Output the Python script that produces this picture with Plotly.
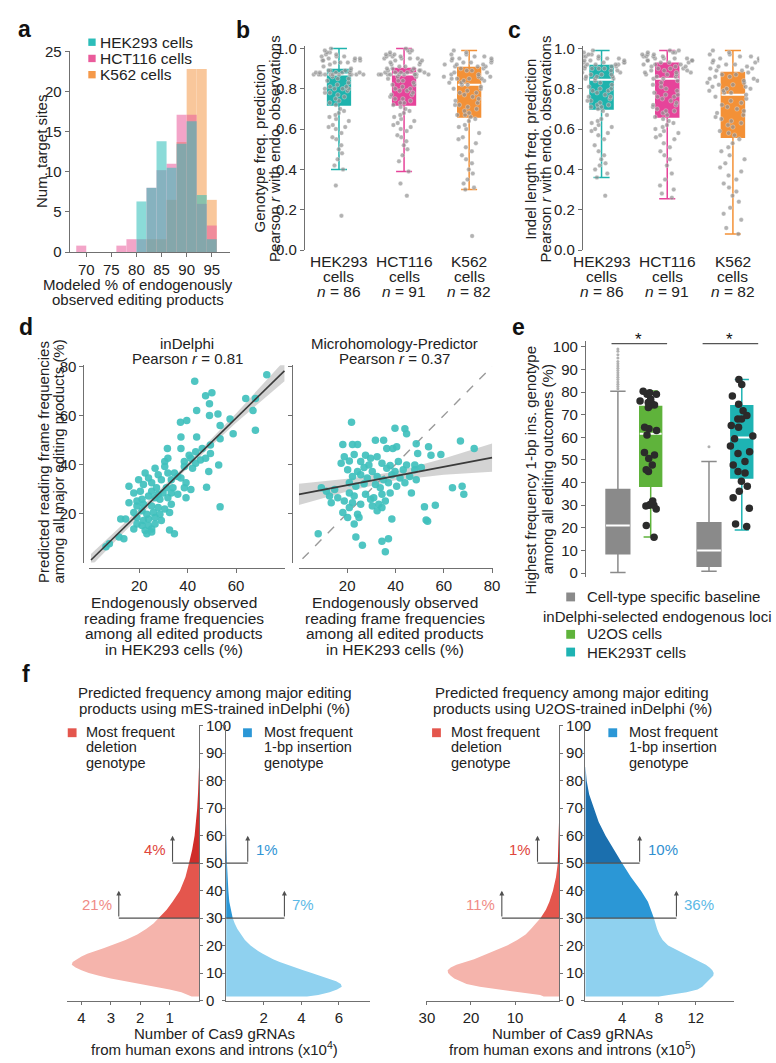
import plotly.graph_objects as go

W, H = 776, 1063
FONT = "Liberation Sans, Arial, Helvetica, sans-serif"
FS = 15
TXT = "#222222"
AXC = "#707070"


def X(p):
    return p / W


def Y(p):
    return 1 - p / H


# ---------------- panel a: histogram ----------------
a_bin_centers = [69, 71, 73, 75, 77, 79, 81, 83, 85, 87, 89, 91, 93, 95]
a_hek293 = [0, 0, 0, 0, 0, 0, 6.3, 8.0, 13.8, 10.5, 13.5, 16.3, 7.1, 1.6]
a_hct116 = [0.8, 0, 0, 0, 0.8, 1.6, 1.6, 8.0, 10.2, 11.0, 17.1, 17.1, 6.0, 3.3]
a_k562 = [0, 0, 0, 0, 0, 0, 0, 1.6, 1.6, 6.5, 13.7, 22.8, 22.8, 6.5]
a_names = ["HEK293 cells", "HCT116 cells", "K562 cells"]

# ---------------- panels b, c: box plots ----------------
cell_names = ["HEK293", "HCT116", "K562"]
cell_n = [86, 91, 82]

b_hek293 = [1.0, 0.99, 0.98, 0.98, 0.97, 0.97, 0.96, 0.96, 0.96, 0.95, 0.95, 0.95, 0.94, 0.94, 0.94, 0.94,
            0.93, 0.93, 0.93, 0.92, 0.91, 0.90,
            0.89, 0.89, 0.89, 0.89, 0.88, 0.88, 0.88, 0.88, 0.88, 0.88, 0.87, 0.87, 0.87, 0.87, 0.87, 0.87,
            0.87, 0.87, 0.87, 0.87, 0.87,
            0.86, 0.85, 0.85, 0.84, 0.83, 0.82, 0.81, 0.81, 0.80, 0.80, 0.80, 0.80, 0.79, 0.78, 0.78, 0.77,
            0.76, 0.75, 0.74, 0.73, 0.72,
            0.70, 0.69, 0.68, 0.67, 0.66, 0.65, 0.64, 0.62, 0.61, 0.61, 0.60, 0.58, 0.56, 0.55, 0.52, 0.50,
            0.48, 0.45, 0.42, 0.40, 0.32, 0.17]
b_hct116 = [1.0, 0.99, 0.99, 0.98, 0.98, 0.97, 0.97, 0.97, 0.96, 0.96, 0.96, 0.95, 0.95, 0.95, 0.95, 0.94,
            0.94, 0.93, 0.93, 0.92, 0.92, 0.91, 0.91,
            0.90, 0.90, 0.90, 0.89, 0.89, 0.89, 0.89, 0.88, 0.88, 0.88, 0.88, 0.88, 0.87, 0.87, 0.87, 0.87,
            0.87, 0.87, 0.87, 0.87, 0.87, 0.87,
            0.86, 0.86, 0.85, 0.84, 0.84, 0.83, 0.82, 0.82, 0.81, 0.80, 0.80, 0.79, 0.79, 0.78, 0.77, 0.77,
            0.76, 0.75, 0.75, 0.74, 0.73, 0.73, 0.72,
            0.71, 0.70, 0.69, 0.68, 0.67, 0.66, 0.65, 0.64, 0.63, 0.62, 0.61, 0.60, 0.59, 0.57, 0.56, 0.54,
            0.52, 0.50, 0.47, 0.44, 0.39, 0.33, 0.27]
b_k562 = [0.99, 0.98, 0.97, 0.97, 0.96, 0.96, 0.95, 0.95, 0.95, 0.94, 0.94, 0.93, 0.93, 0.93, 0.92, 0.92,
          0.92, 0.91, 0.91, 0.91,
          0.90, 0.90, 0.89, 0.89, 0.88, 0.88, 0.87, 0.87, 0.86, 0.86, 0.86, 0.85, 0.85, 0.85, 0.85, 0.84,
          0.84, 0.83, 0.83, 0.82, 0.82,
          0.81, 0.80, 0.80, 0.79, 0.78, 0.78, 0.77, 0.76, 0.75, 0.74, 0.73, 0.72, 0.72, 0.71, 0.70, 0.69,
          0.68, 0.67, 0.67, 0.66,
          0.65, 0.64, 0.62, 0.61, 0.60, 0.58, 0.56, 0.55, 0.53, 0.51, 0.49, 0.47, 0.45, 0.43, 0.40, 0.38,
          0.35, 0.33, 0.31, 0.30, 0.07]
b_q1 = [0.72, 0.72, 0.66]
b_med = [0.87, 0.87, 0.82]
b_q3 = [0.895, 0.90, 0.905]
b_lo = [0.40, 0.39, 0.30]
b_hi = [1.0, 1.0, 0.99]

c_hek293 = [0.99, 0.98, 0.97, 0.97, 0.96, 0.96, 0.96, 0.95, 0.95, 0.95, 0.94, 0.94, 0.94, 0.93, 0.93, 0.93,
            0.93, 0.92, 0.92, 0.92, 0.92, 0.92,
            0.91, 0.91, 0.91, 0.90, 0.90, 0.90, 0.90, 0.89, 0.89, 0.89, 0.88, 0.88, 0.87, 0.87, 0.87, 0.86,
            0.86, 0.86, 0.85, 0.85, 0.85,
            0.84, 0.83, 0.82, 0.81, 0.80, 0.80, 0.79, 0.79, 0.78, 0.77, 0.76, 0.76, 0.75, 0.74, 0.74, 0.73,
            0.72, 0.72, 0.71, 0.71, 0.70,
            0.69, 0.67, 0.65, 0.64, 0.63, 0.62, 0.61, 0.60, 0.59, 0.58, 0.57, 0.55, 0.52, 0.49, 0.47, 0.45,
            0.43, 0.42, 0.40, 0.38, 0.36, 0.27]
c_hct116 = [0.99, 0.99, 0.98, 0.98, 0.98, 0.97, 0.97, 0.97, 0.96, 0.96, 0.96, 0.96, 0.95, 0.95, 0.95, 0.95,
            0.94, 0.94, 0.94, 0.94, 0.93, 0.93, 0.93,
            0.92, 0.92, 0.92, 0.91, 0.91, 0.91, 0.90, 0.90, 0.90, 0.89, 0.89, 0.89, 0.88, 0.88, 0.88, 0.87,
            0.87, 0.87, 0.86, 0.86, 0.85, 0.85,
            0.84, 0.83, 0.82, 0.81, 0.80, 0.79, 0.78, 0.77, 0.77, 0.76, 0.76, 0.75, 0.74, 0.73, 0.72, 0.72,
            0.71, 0.70, 0.69, 0.69, 0.68, 0.67, 0.66,
            0.65, 0.64, 0.63, 0.62, 0.61, 0.60, 0.59, 0.58, 0.57, 0.56, 0.55, 0.53, 0.51, 0.49, 0.47, 0.45,
            0.42, 0.38, 0.35, 0.32, 0.30, 0.28, 0.26]
c_k562 = [0.99, 0.98, 0.97, 0.97, 0.96, 0.96, 0.95, 0.95, 0.94, 0.94, 0.93, 0.93, 0.92, 0.92, 0.91, 0.91,
          0.90, 0.90, 0.89, 0.89,
          0.88, 0.87, 0.87, 0.86, 0.86, 0.85, 0.85, 0.84, 0.84, 0.83, 0.83, 0.82, 0.82, 0.81, 0.81, 0.80,
          0.80, 0.79, 0.79, 0.78, 0.78,
          0.77, 0.76, 0.75, 0.74, 0.73, 0.72, 0.71, 0.70, 0.69, 0.68, 0.67, 0.66, 0.65, 0.64, 0.63, 0.62,
          0.61, 0.59, 0.58, 0.57,
          0.55, 0.53, 0.51, 0.49, 0.47, 0.45, 0.43, 0.41, 0.39, 0.37, 0.35, 0.33, 0.31, 0.29, 0.27, 0.24,
          0.21, 0.18, 0.15, 0.11, 0.08]
c_q1 = [0.70, 0.66, 0.56]
c_med = [0.845, 0.85, 0.77]
c_q3 = [0.915, 0.927, 0.88]
c_lo = [0.36, 0.255, 0.08]
c_hi = [0.99, 0.99, 0.99]

# ---------------- panel d: scatter ----------------
d1_x = [72.7, 42.9, 47.4, 50.0, 49.0, 64.0, 68.0, 67.0, 68.0, 43.7, 49.0, 52.5, 37.0, 39.6, 57.5, 58.8, 53.4,
        37.2, 43.7, 53.4, 31.6, 37.2, 43.3, 46.0, 49.4, 40.6, 41.3, 45.3, 47.4, 49.4, 30.5, 31.8, 38.6, 43.3,
        26.5, 30.5, 38.6, 42.0, 48.7, 52.8, 22.4, 27.8, 31.8, 34.5, 35.9, 19.7, 23.8, 29.1, 33.2, 37.2, 39.3,
        15.7, 21.7, 25.1, 31.2, 33.9, 38.6, 41.3, 47.8, 17.7, 25.1, 27.8, 29.8, 33.2, 35.9, 39.3,
        15.7, 21.1, 23.8, 26.5, 28.5, 31.8, 33.2, 19.0, 21.7, 25.1, 27.8, 30.5, 53.4,
        17.7, 21.1, 23.1, 25.8, 28.5, 32.5, 19.0, 21.7, 23.8, 26.5, 29.1, 12.3, 14.3, 19.0, 21.1, 23.8, 26.5,
        17.7, 22.4, 25.1, 32.5, 34.5, 11.6, 13.6, 23.1, 25.1, 7.6, 6.2, 20.4, 19.0, 27.1]
d1_y = [76.6, 74.0, 68.0, 69.3, 64.8, 66.9, 66.9, 62.0, 54.0, 62.0, 60.0, 60.6, 57.2, 57.9, 58.6, 52.5, 55.9,
        51.2, 51.2, 50.5, 46.5, 46.5, 45.2, 46.5, 47.9, 43.8, 42.5, 41.8, 42.5, 44.5, 41.2, 42.5, 41.2, 40.5,
        38.5, 39.2, 39.2, 38.5, 37.1, 39.8, 36.5, 35.8, 36.5, 36.5, 35.1, 33.8, 34.5, 33.8, 33.8, 34.5, 32.5,
        31.1, 31.8, 32.5, 30.5, 30.5, 30.5, 29.8, 30.7, 28.4, 29.1, 27.8, 28.4, 28.4, 27.8, 26.4,
        24.4, 25.8, 27.1, 26.4, 25.8, 26.4, 23.8, 23.1, 23.8, 23.1, 22.4, 21.8, 22.7,
        20.4, 21.1, 19.7, 20.4, 19.7, 20.4, 18.4, 17.1, 17.8, 18.4, 17.1, 17.8, 17.8, 15.7, 15.1, 15.1, 15.7,
        13.7, 13.1, 13.7, 13.3, 11.7, 10.4, 9.7, 11.7, 12.4, 7.7, 6.4, 29.1, 25.1, 30.5]
d2_x = [21.8, 39.8, 43.9, 44.6, 66.9, 72.6, 18.2, 22.2, 24.3, 31.7, 35.1, 36.4, 38.9, 40.5, 48.6, 53.7, 49.2,
        18.8, 22.9, 27.6, 29.7, 32.4, 54.7, 58.8, 17.5, 20.9, 25.6, 29.0, 34.4, 37.8, 41.2, 44.6, 48.0,
        20.2, 24.3, 27.0, 30.4, 36.4, 39.8, 43.2, 48.0, 50.7, 22.2, 25.6, 28.3, 32.4, 35.1, 38.5, 41.9, 45.9,
        48.6, 9.3, 11.4, 14.8, 20.9, 23.6, 27.0, 31.7, 33.7, 37.1, 40.5, 43.9, 12.7, 16.1, 20.9, 22.9, 27.6,
        31.0, 34.4, 37.8, 46.6, 63.6, 67.6, 68.3, 13.4, 18.8, 22.2, 25.6, 29.7, 33.1, 35.8, 18.2, 20.9, 24.3,
        30.4, 32.4, 34.4, 52.0, 56.5, 20.2, 24.9, 38.5, 52.7, 53.3, 22.9, 8.0, 23.6, 26.3, 34.4, 37.1, 35.8]
d2_y = [57.2, 54.8, 54.6, 52.5, 49.6, 46.5, 48.1, 48.1, 48.1, 49.9, 49.9, 46.5, 46.5, 47.2, 48.5, 47.2, 44.5,
        43.2, 44.1, 43.8, 42.5, 43.2, 43.8, 44.1, 40.5, 41.4, 41.2, 39.8, 40.5, 39.6, 41.2, 39.8, 39.8,
        37.8, 37.1, 38.8, 37.1, 38.5, 37.1, 37.8, 37.8, 38.8, 35.1, 35.8, 34.5, 35.1, 33.8, 35.8, 34.5, 35.1,
        33.8, 30.5, 29.1, 29.8, 32.5, 31.1, 32.1, 31.8, 30.5, 32.5, 31.1, 32.5, 27.1, 26.4, 28.4, 27.1, 27.8,
        26.4, 27.8, 28.4, 28.4, 30.5, 31.1, 27.8, 24.4, 25.1, 24.4, 23.8, 25.8, 23.8, 25.1, 20.4, 22.4, 19.7,
        23.1, 21.1, 22.4, 22.7, 23.4, 18.4, 18.4, 17.7, 17.3, 16.8, 15.7, 11.7, 10.4, 7.0, 8.7, 9.7, 4.4]
d1_fit_x = [0, 20, 40, 60, 80]
d1_fit_y = [1.0, 20.3, 39.6, 58.9, 78.2]
d1_ci_lo = [-1.5, 18.8, 38.6, 57.0, 74.0]
d1_ci_hi = [3.5, 21.8, 40.6, 60.8, 82.4]
d2_fit_x = [0, 20, 40, 60, 80]
d2_fit_y = [27.8, 31.6, 35.3, 39.1, 42.8]
d2_ci_lo = [23.5, 29.0, 33.6, 35.8, 37.0]
d2_ci_hi = [32.1, 34.2, 37.0, 42.4, 48.6]
d_diag = [1.5, 80]

# ---------------- panel e ----------------
e_groups = ["U2OS", "HEK293T"]
e_base_q1 = [8.6, 3.0]
e_base_med = [21.0, 10.0]
e_base_q3 = [37.0, 22.3]
e_base_lo = [0.3, 0.8]
e_base_hi = [80.4, 49.3]
e_base_out_u2os = [81.5, 82.5, 83.5, 84.5, 85.5, 86.5, 87.5, 88.5, 89.5, 90.5, 91.5, 92.5, 93.5, 95, 96.5, 98, 99]
e_base_out_hek = [55.8]
e_sel_q1 = [38.4, 42.0]
e_sel_med = [61.6, 59.9]
e_sel_q3 = [73.6, 73.9]
e_sel_lo = [16.0, 19.1]
e_sel_hi = [80.5, 85.5]
e_u2os_pts = [80.4, 79.7, 79, 79, 76.8, 76, 75, 75.4, 74.2, 74.3, 73.2, 64.5, 63, 63.8, 61, 52.2, 53.3, 50.7,
              47.8, 45.7, 44.9, 31.9, 30.4, 30, 30, 29.7, 28.3, 21, 15.9]
e_hek_pts = [85.5, 83.3, 78.3, 74.6, 71.7, 68.1, 68.1, 69.6, 65.2, 64.5, 60.6, 59.4, 56.2, 53.6, 52.9, 49.3,
             47.8, 44.9, 44.2, 40.6, 38.4, 36.2, 33.3, 28.7, 21.7, 20.6]

# ---------------- panel f ----------------
f_y = [1.5, 2, 3, 4, 5, 6, 7, 8, 9, 10, 11, 12, 13, 14, 15, 16, 17, 18, 19, 20, 22, 24, 26, 28, 30, 33, 36,
       40, 45, 50, 55, 60, 65, 70, 75, 80, 85]
f_mes_del = [0.25, 0.35, 0.6, 1.0, 1.5, 2.1, 2.6, 3.0, 3.4, 3.75, 4.0, 4.2, 4.33, 4.3, 4.15, 4.0, 3.8, 3.5,
             3.25, 3.0, 2.5, 2.1, 1.8, 1.55, 1.37, 1.1, 0.9, 0.65, 0.46, 0.34, 0.23, 0.15, 0.1, 0.06, 0.035,
             0.015, 0.0]
f_mes_ins = [4.3, 4.9, 5.5, 5.9, 6.15, 6.1, 5.85, 5.45, 5.0, 4.55, 4.1, 3.65, 3.2, 2.85, 2.5, 2.2, 1.95, 1.7,
             1.5, 1.3, 1.0, 0.78, 0.6, 0.46, 0.35, 0.25, 0.17, 0.12, 0.07, 0.045, 0.02, 0.005, 0, 0, 0, 0, 0]
f_u2os_del = [3.5, 4.3, 9.0, 14.0, 18.0, 21.0, 22.5, 23.8, 24.6, 25.2, 25.3, 24.6, 23.3, 21.2, 19.3, 17.8,
              16.2, 14.6, 13.1, 11.8, 9.5, 7.6, 6.4, 5.3, 4.2, 3.0, 2.2, 1.4, 0.7, 0.3, 0.15, 0.07, 0.02, 0,
              0, 0, 0]
f_u2os_ins = [8.0, 8.9, 11.0, 12.2, 12.7, 13.0, 13.3, 13.7, 13.9, 13.95, 13.8, 13.5, 13.1, 12.5, 11.9, 11.3,
              10.7, 10.1, 9.5, 9.0, 8.4, 8.05, 7.8, 7.65, 7.45, 7.15, 6.8, 6.05, 4.95, 4.0, 3.1, 2.2, 1.45,
              0.9, 0.42, 0.14, 0.02]

# colours
C_HEK = "#1fb3ad"
C_HCT = "#e6449a"
C_K562 = "#f39137"
H_HEK = "#2cbdb9"
H_HCT = "#ea5b9b"
H_K562 = "#f5994a"
C_PTS = "rgba(145,145,145,0.7)"
C_D = "#40c0bd"
C_GREY = "#8a8a8a"
C_GREEN = "#5fb33b"
C_CYAN = "#1eb3b3"
DEL_COLS = ["#f5b4ac", "#e4564d", "#cf2d29"]
INS_COLS = ["#8fd1ef", "#2b97d6", "#1b6fae"]

fig = go.Figure()

# ---- a (drawn K562 first so HEK293 lies on top) ----
for vals, col in zip([a_k562, a_hct116, a_hek293], [H_K562, H_HCT, H_HEK]):
    fig.add_trace(go.Bar(x=a_bin_centers, y=vals, width=2, marker=dict(color=col, line=dict(width=0)),
                         opacity=0.55, xaxis="x", yaxis="y", showlegend=False))


# ---- b, c ----
def add_boxes(series, q1, med, q3, lo, hi, xa, ya):
    cols = [C_HEK, C_HCT, C_K562]
    for i, vals in enumerate(series):
        fig.add_trace(go.Box(x=[i], q1=[q1[i]], median=[med[i]], q3=[q3[i]], lowerfence=[lo[i]],
                             upperfence=[hi[i]], width=0.35, fillcolor=cols[i],
                             line=dict(color=cols[i], width=1.5), whiskerwidth=0.7, boxpoints=False,
                             xaxis=xa, yaxis=ya, showlegend=False))
        fig.add_trace(go.Box(x=[i], q1=[med[i]], median=[med[i]], q3=[med[i]], lowerfence=[med[i]],
                             upperfence=[med[i]], width=0.35, fillcolor="rgba(0,0,0,0)",
                             line=dict(color="white", width=2), whiskerwidth=0, boxpoints=False,
                             xaxis=xa, yaxis=ya, showlegend=False))
        fig.add_trace(go.Box(x=[i] * len(vals), y=vals, boxpoints="all", jitter=1.0, pointpos=0, width=0.8,
                             fillcolor="rgba(0,0,0,0)", line=dict(color="rgba(0,0,0,0)", width=0),
                             marker=dict(color=C_PTS, size=4.5, line=dict(color="rgba(255,255,255,0.6)", width=0.5)),
                             xaxis=xa, yaxis=ya, showlegend=False))


add_boxes([b_hek293, b_hct116, b_k562], b_q1, b_med, b_q3, b_lo, b_hi, "x2", "y2")
add_boxes([c_hek293, c_hct116, c_k562], c_q1, c_med, c_q3, c_lo, c_hi, "x3", "y3")


# ---- d ----
def add_scatter_panel(xs, ys, fx, fy, lo, hi, xa, ya, diag=False):
    fig.add_trace(go.Scatter(x=fx, y=lo, mode="lines", line=dict(width=0), xaxis=xa, yaxis=ya,
                             showlegend=False, hoverinfo="skip"))
    fig.add_trace(go.Scatter(x=fx, y=hi, mode="lines", line=dict(width=0), fill="tonexty",
                             fillcolor="rgba(150,150,150,0.42)", xaxis=xa, yaxis=ya, showlegend=False,
                             hoverinfo="skip"))
    if diag:
        fig.add_trace(go.Scatter(x=d_diag, y=d_diag, mode="lines",
                                 line=dict(color="#9a9a9a", width=1.4, dash="dash"),
                                 xaxis=xa, yaxis=ya, showlegend=False))
    fig.add_trace(go.Scatter(x=xs, y=ys, mode="markers", marker=dict(color=C_D, size=7.5, opacity=0.92),
                             xaxis=xa, yaxis=ya, showlegend=False))
    fig.add_trace(go.Scatter(x=fx, y=fy, mode="lines", line=dict(color="#3a3a3a", width=1.6),
                             xaxis=xa, yaxis=ya, showlegend=False))


add_scatter_panel(d1_x, d1_y, d1_fit_x, d1_fit_y, d1_ci_lo, d1_ci_hi, "x4", "y4")
add_scatter_panel(d2_x, d2_y, d2_fit_x, d2_fit_y, d2_ci_lo, d2_ci_hi, "x5", "y5", diag=True)

# ---- e ----
OFF = 0.18
for g in range(2):
    pb = g - OFF
    ps = g + OFF
    fig.add_trace(go.Box(x=[pb], q1=[e_base_q1[g]], median=[e_base_med[g]], q3=[e_base_q3[g]],
                         lowerfence=[e_base_lo[g]], upperfence=[e_base_hi[g]], width=0.26, fillcolor=C_GREY,
                         line=dict(color=C_GREY, width=1.5), whiskerwidth=0.65, boxpoints=False,
                         xaxis="x6", yaxis="y6", showlegend=False))
    fig.add_trace(go.Box(x=[pb], q1=[e_base_med[g]], median=[e_base_med[g]], q3=[e_base_med[g]],
                         lowerfence=[e_base_med[g]], upperfence=[e_base_med[g]], width=0.26,
                         fillcolor="rgba(0,0,0,0)", line=dict(color="white", width=2), whiskerwidth=0,
                         boxpoints=False, xaxis="x6", yaxis="y6", showlegend=False))
    outs = [e_base_out_u2os, e_base_out_hek][g]
    fig.add_trace(go.Box(x=[pb] * len(outs), y=outs, boxpoints="all", jitter=0, pointpos=0, width=0.26,
                         fillcolor="rgba(0,0,0,0)", line=dict(color="rgba(0,0,0,0)", width=0),
                         marker=dict(color="#b0b0b0", size=3), xaxis="x6", yaxis="y6", showlegend=False))
    col = [C_GREEN, C_CYAN][g]
    fig.add_trace(go.Box(x=[ps], q1=[e_sel_q1[g]], median=[e_sel_med[g]], q3=[e_sel_q3[g]],
                         lowerfence=[e_sel_lo[g]], upperfence=[e_sel_hi[g]], width=0.24, fillcolor=col,
                         line=dict(color=col, width=1.5), whiskerwidth=0.65, boxpoints=False,
                         xaxis="x6", yaxis="y6", showlegend=False))
    fig.add_trace(go.Box(x=[ps], q1=[e_sel_med[g]], median=[e_sel_med[g]], q3=[e_sel_med[g]],
                         lowerfence=[e_sel_med[g]], upperfence=[e_sel_med[g]], width=0.24,
                         fillcolor="rgba(0,0,0,0)", line=dict(color="white", width=2), whiskerwidth=0,
                         boxpoints=False, xaxis="x6", yaxis="y6", showlegend=False))
    pts = [e_u2os_pts, e_hek_pts][g]
    fig.add_trace(go.Box(x=[ps] * len(pts), y=pts, boxpoints="all", jitter=0.95, pointpos=0, width=0.3,
                         fillcolor="rgba(0,0,0,0)", line=dict(color="rgba(0,0,0,0)", width=0),
                         marker=dict(color="#2b2b2b", size=7.5), xaxis="x6", yaxis="y6", showlegend=False))


# ---- f ----
def add_profile(vals, cols, xa, ya):
    segs = [(0, 30), (30, 50), (50, 101)]
    for (lo, hi), col in zip(segs, cols):
        sx = [v for v, yy in zip(vals, f_y) if lo <= yy <= hi]
        sy = [yy for yy in f_y if lo <= yy <= hi]
        fig.add_trace(go.Scatter(x=sx, y=sy, mode="lines", line=dict(width=0, color=col), fill="tozerox",
                                 fillcolor=col, xaxis=xa, yaxis=ya, showlegend=False, hoverinfo="skip"))


add_profile(f_mes_del, DEL_COLS, "x7", "y7")
add_profile(f_mes_ins, INS_COLS, "x8", "y8")
add_profile(f_u2os_del, DEL_COLS, "x9", "y9")
add_profile(f_u2os_ins, INS_COLS, "x10", "y10")


# ---------------- layout ----------------
def ax(domain, rng, **kw):
    d = dict(domain=domain, range=rng, showline=True, linecolor=AXC, linewidth=1, ticks="outside", ticklen=4,
             tickwidth=1, tickcolor=AXC, tickfont=dict(size=FS, color=TXT), showgrid=False, zeroline=False,
             fixedrange=True)
    d.update(kw)
    return d


ytick_bc = [0, 0.2, 0.4, 0.6, 0.8, 1.0]
ytick_f = list(range(0, 101, 10))
layout = dict(
    width=W, height=H, margin=dict(l=0, r=0, t=0, b=0), paper_bgcolor="white", plot_bgcolor="white",
    font=dict(family=FONT, size=FS, color=TXT), barmode="overlay", boxmode="overlay", showlegend=False,
    xaxis=ax([X(63), X(227)], [66.7, 98.7], anchor="y", tickvals=[70, 75, 80, 85, 90, 95]),
    yaxis=ax([Y(247), Y(43)], [0, 25], anchor="x", tickvals=[0, 5, 10, 15, 20, 25]),
    xaxis2=ax([X(303), X(509)], [-0.526, 2.574], anchor="y2", showline=False, ticks="", showticklabels=False),
    yaxis2=ax([Y(245), Y(38)], [0, 1.01], anchor="x2", tickvals=ytick_bc, tickformat=".1f"),
    xaxis3=ax([X(587), X(767)], [-0.284, 2.4], anchor="y3", showline=False, ticks="", showticklabels=False),
    yaxis3=ax([Y(245), Y(38)], [0, 1.01], anchor="x3", tickvals=ytick_bc, tickformat=".1f"),
    xaxis4=ax([X(83), X(283)], [-0.7, 80.3], anchor="free", position=Y(568), tickvals=[20, 40, 60]),
    yaxis4=ax([Y(562.5), Y(362)], [0, 80.5], anchor="free", position=X(77), tickvals=[20, 40, 60, 80]),
    xaxis5=ax([X(297), X(495)], [0, 80.3], anchor="free", position=Y(568), tickvals=[20, 40, 60, 80]),
    yaxis5=ax([Y(562.5), Y(362)], [0, 80.5], anchor="free", position=X(290), tickvals=[20, 40, 60, 80],
              showticklabels=False),
    xaxis6=dict(domain=[X(590), X(775)], range=[-0.532, 1.457], anchor="y6", visible=False, fixedrange=True),
    yaxis6=ax([Y(576.75), Y(337.3)], [-1.5, 102.6], anchor="x6", tickvals=ytick_f),
    xaxis7=ax([X(60), X(195)], [4.5, 0], anchor="y7", tickvals=[1, 2, 3, 4], ticklen=3),
    yaxis7=ax([Y(1007.7), Y(727.5)], [0, 100.3], anchor="x7", side="right", tickvals=ytick_f, ticklen=3),
    xaxis8=ax([X(222.7), X(370)], [0, 7.67], anchor="y8", tickvals=[2, 4, 6], ticklen=3),
    yaxis8=ax([Y(1007.7), Y(727.5)], [0, 100.3], anchor="x8", tickvals=ytick_f, ticklen=3,
              showticklabels=False),
    xaxis9=ax([X(427.3), X(562.7)], [30.1, 0], anchor="y9", tickvals=[10, 20, 30], ticklen=3),
    yaxis9=ax([Y(1007.7), Y(727.5)], [0, 100.3], anchor="x9", side="right", tickvals=ytick_f, ticklen=3),
    xaxis10=ax([X(589.5), X(741.7)], [0, 16.2], anchor="y10", tickvals=[4, 8, 12], ticklen=3),
    yaxis10=ax([Y(1007.7), Y(727.5)], [0, 100.3], anchor="x10", tickvals=ytick_f, ticklen=3,
               showticklabels=False),
)

ann = []
shapes = []


def txt(x, y, s, size=FS, color=TXT, xanchor="center", yanchor="middle", angle=0, xref="paper",
        yref="paper", xshift=0):
    xx = X(x) if xref == "paper" else x
    yy = Y(y) if yref == "paper" else y
    ann.append(dict(x=xx, y=yy, text=s, xref=xref, yref=yref, showarrow=False, xanchor=xanchor,
                    yanchor=yanchor, textangle=angle, xshift=xshift,
                    font=dict(family=FONT, size=size, color=color)))


def rect(x0, y0, x1, y1, col):
    shapes.append(dict(type="rect", xref="paper", yref="paper", x0=X(x0), x1=X(x1), y0=Y(y0), y1=Y(y1),
                       fillcolor=col, line=dict(width=0)))


# panel letters
for s, x, y in [("a", 17, 20), ("b", 240, 21), ("c", 517, 21), ("d", 18, 323), ("e", 521, 323),
                ("f", 18, 676)]:
    txt(x, y, "<b>%s</b>" % s, size=23, color="#111")

# a legend and titles
for k, (nm, col) in enumerate(zip(a_names, [H_HEK, H_HCT, H_K562])):
    rect(82, 30 + 16.5 * k, 89.5, 37.5 + 16.5 * k, col)
    txt(92, 34 + 16.2 * k, nm, xanchor="left", size=15.5)
txt(34, 145, "Num. target sites", angle=-90)
txt(133, 280, "Modeled % of endogenously")
txt(133, 295, "observed editing products")

# b, c titles and categories
txt(257, 142, "Genotype freq. prediction", angle=-90)
txt(272, 142, "Pearson <i>r</i> with endo. observations", angle=-90)
txt(534, 142, "Indel length freq. prediction", angle=-90)
txt(549, 142, "Pearson <i>r</i> with endo. observations", angle=-90)
for xa in ["x2", "x3"]:
    for i, (nm, n) in enumerate(zip(cell_names, cell_n)):
        txt(i, 257, nm, xref=xa, size=15.5)
        txt(i, 272, "cells", xref=xa, size=15.5)
        txt(i, 287, "<i>n</i> = %d" % n, xref=xa, size=15.5)

# d titles
txt(183, 340, "inDelphi")
txt(183, 355, "Pearson <i>r</i> = 0.81")
txt(395, 340, "Microhomology-Predictor")
txt(395, 355, "Pearson <i>r</i> = 0.37")
txt(36, 460, "Predicted reading frame frequencies", angle=-90)
txt(52, 460, "among all major editing products (%)", angle=-90)
for cx in [170, 395]:
    for s, yy in zip(["Endogenously observed", "reading frame frequencies", "among all edited products",
                      "in HEK293 cells (%)"], [603, 619, 635, 651]):
        txt(cx, yy, s, size=15.5)

# e titles / legend / significance
txt(534, 468, "Highest frequency 1-bp ins. genotype", angle=-90)
txt(551, 468, "among all editing outcomes (%)", angle=-90)
for g in range(2):
    shapes.append(dict(type="line", xref="x6", yref="y6", x0=g - 0.25, x1=g + 0.36, y0=101.4, y1=101.4,
                       line=dict(color="#555", width=1.2)))
    ann.append(dict(x=g + 0.05, y=Y(336), xref="x6", yref="paper", text="*", showarrow=False,
                    font=dict(family=FONT, size=17, color="#111"), xanchor="center", yanchor="middle"))
rect(570, 593, 579, 602, C_GREY)
txt(589, 597, "Cell-type specific baseline", xanchor="left")
txt(544, 617, "inDelphi-selected endogenous loci", xanchor="left")
rect(570, 631, 579, 640, C_GREEN)
txt(589, 635, "U2OS cells", xanchor="left")
rect(570, 649, 579, 658, C_CYAN)
txt(589, 654, "HEK293T cells", xanchor="left")

# f titles, legends, axis titles
for cx, mdl, sup in [(211, "mES", "4"), (576, "U2OS", "5")]:
    txt(cx, 695, "Predicted frequency among major editing")
    txt(cx, 711, "products using %s-trained inDelphi (%%)" % mdl)
    txt(cx, 1041, "Number of Cas9 gRNAs")
    txt(cx, 1056, "from human exons and introns (x10<sup>%s</sup>)" % sup)
for rx, tx in [(61, 78), (240, 259), (433, 450), (613, 632)]:
    col = DEL_COLS[1] if rx in (61, 433) else INS_COLS[1]
    rect(rx, 731, rx + 9, 740, col)
    second = "deletion" if rx in (61, 433) else "1-bp insertion"
    txt(tx, 735, "Most frequent", xanchor="left", size=14.5)
    txt(tx, 750.5, second, xanchor="left", size=14.5)
    txt(tx, 766, "genotype", xanchor="left", size=14.5)

# f brackets: (xaxis, yaxis, bracket x, base y, label, colour, side)
brackets = [
    ("x7", "y7", 0.9, 50, "4%", "#e0453c", -1),
    ("x7", "y7", 2.73, 30, "21%", "#f08b86", -1),
    ("x8", "y8", 1.15, 50, "1%", "#2f95d5", 1),
    ("x8", "y8", 3.1, 30, "7%", "#5cb9e6", 1),
    ("x9", "y9", 4.9, 50, "1%", "#e0453c", -1),
    ("x9", "y9", 13.0, 30, "11%", "#f08b86", -1),
    ("x10", "y10", 5.9, 50, "10%", "#2f8fd0", 1),
    ("x10", "y10", 9.9, 30, "36%", "#5cb9e6", 1),
]
for xa, ya, bx, by, lab, col, side in brackets:
    shapes.append(dict(type="line", xref=xa, yref=ya, x0=0, x1=bx, y0=by, y1=by,
                       line=dict(color="#505050", width=1.1)))
    ann.append(dict(x=bx, y=by + 10, ax=bx, ay=by, xref=xa, yref=ya, axref=xa, ayref=ya, text="",
                    showarrow=True, arrowhead=2, arrowsize=0.9, arrowwidth=1.1, arrowcolor="#505050"))
    ann.append(dict(x=bx, y=by + 4.8, xref=xa, yref=ya, text=lab, showarrow=False,
                    xanchor="right" if side < 0 else "left", xshift=-5 * (side < 0) + 6 * (side > 0),
                    font=dict(family=FONT, size=FS, color=col)))

layout["annotations"] = ann
layout["shapes"] = shapes
fig.update_layout(**layout)
fig.write_html("out.html")
